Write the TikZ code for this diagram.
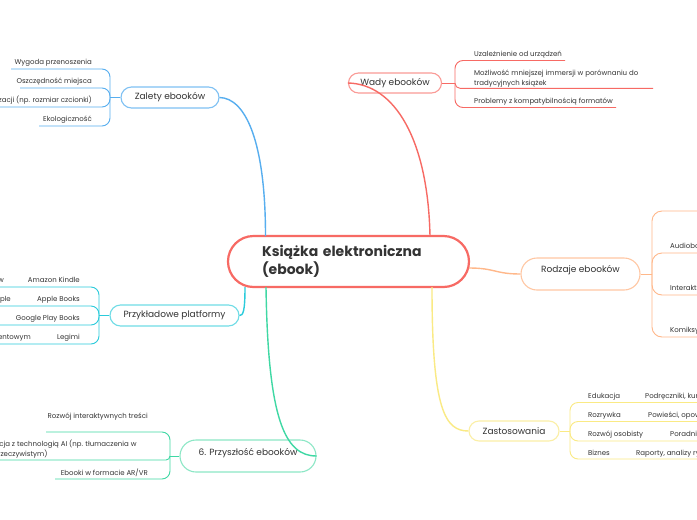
\documentclass[tikz,border=0pt]{standalone}
\usepackage{fontspec}
\setmainfont{Poppins}
\definecolor{txt}{HTML}{333333}
\definecolor{cRed}{HTML}{F76A64}
\definecolor{rPill}{HTML}{FA9A96}
\definecolor{cBlue}{HTML}{57AEEF}
\definecolor{bPill}{HTML}{7FC1F3}
\definecolor{cOr}{HTML}{FFB88A}
\definecolor{oPill}{HTML}{FFC7A3}
\definecolor{cCy}{HTML}{2ACBDB}
\definecolor{cyPill}{HTML}{6FDCE6}
\definecolor{cGr}{HTML}{3FD8A4}
\definecolor{gPill}{HTML}{8DE7C6}
\definecolor{cYe}{HTML}{FAEA84}
\definecolor{yPill}{HTML}{FBEFA6}
\begin{document}
\begin{tikzpicture}[x=1pt,y=-1pt,
  pill/.style={draw, line width=1.1pt, inner sep=0pt, text=txt, font=\fontsize{9}{11}\selectfont},
  child/.style={inner sep=0pt, text=txt, font=\fontsize{7}{10}\selectfont},
  lt/.style={child, anchor=base west},
  rt/.style={child, anchor=base east},
  conn/.style={line width=1.4pt},
  sub/.style={line width=0.9pt}]
\useasboundingbox (0,0) rectangle (697,520);
\clip (0,0) rectangle (697,520);
\fill[white] (0,0) rectangle (697,520);

% central
\node[draw=cRed, line width=2.2pt, rounded corners=25.5pt, minimum height=51pt,
      text width=173pt, inner xsep=34pt, align=left, text=txt,
      font=\bfseries\fontsize{14}{18}\selectfont] (c) at (348.5,261.5) {Książka elektroniczna\\(ebook)};
\coordinate (c-zal) at (265.5,236);
\coordinate (c-wad) at (430,236);
\coordinate (c-rod) at (469,268);
\coordinate (c-prz) at (245,287);
\coordinate (c-fut) at (266,287);
\coordinate (c-zas) at (432,287);

% branch nodes
\node[pill, draw=bPill, rounded corners=10.5pt, minimum width=98pt, minimum height=21pt] (zal) at (170,97.5) {Zalety ebooków};
\node[pill, draw=rPill, rounded corners=10pt, minimum width=93pt, minimum height=20pt] (wad) at (395,83) {Wady ebooków};
\node[pill, draw=oPill, rounded corners=16pt, minimum width=119pt, minimum height=32pt] (rod) at (580.5,274) {\smash{\raisebox{1.5pt}{Rodzaje ebooków}}};
\node[pill, draw=cyPill, rounded corners=10.5pt, minimum width=129pt, minimum height=21pt] (prz) at (174.5,315.5) {Przykładowe platformy};
\node[pill, draw=gPill, rounded corners=16pt, minimum width=136pt, minimum height=32pt] (fut) at (248,456) {\smash{\raisebox{1pt}{6. Przyszłość ebooków}}};
\node[pill, draw=yPill, rounded corners=10pt, minimum width=90pt, minimum height=20pt] (zas) at (514,431) {Zastosowania};

% main connectors
\draw[conn, cBlue] (c-zal) .. controls (265.5,140) and (245,98) .. (zal.east);
\draw[conn, cRed] (c-wad) .. controls (428,140) and (395,84) .. (wad.west);
\draw[conn, cOr] (c-rod) .. controls (495,268) and (495,274) .. (rod.west);
\draw[conn, cCy] (c-prz) .. controls (245,312) and (243,315.5) .. (prz.east);
\draw[conn, cGr] (c-fut) .. controls (268,420) and (285,456) .. (fut.east);
\draw[conn, cYe] (c-zas) .. controls (432,410) and (445,431) .. (zas.west);

% Zalety children
\coordinate (J1) at (110,97.5);
\draw[sub, cBlue] (zal.west) -- (J1);
\node[rt] (z1) at (92,64.5) {Wygoda przenoszenia};
\node[rt] (z2) at (92,83.5) {Oszczędność miejsca};
\node[rt] (z3) at (92,102.5) {Możliwość personalizacji (np. rozmiar czcionki)};
\node[rt] (z4) at (92,121.5) {Ekologiczność};
\coordinate (z1u) at (11,69);
\coordinate (z2u) at (20,88);
\coordinate (z3u) at (-10,107);
\coordinate (z4u) at (39,126);
\draw[sub, cBlue, rounded corners=8pt] (J1) |- (z1u);
\draw[sub, cBlue, rounded corners=8pt] (J1) |- (z2u);
\draw[sub, cBlue, rounded corners=8pt] (J1) |- (z3u);
\draw[sub, cBlue, rounded corners=8pt] (J1) |- (z4u);

% Wady children
\coordinate (J2) at (455,83);
\draw[sub, cRed] (wad.east) -- (J2);
\node[lt] (w1) at (474,56) {Uzależnienie od urządzeń};
\node[lt, align=left] (w2) at (474,85) {Możliwość mniejszej immersji w porównaniu do\\tradycyjnych książek};
\node[lt] (w3) at (474,103.5) {Problemy z kompatybilnością formatów};
\coordinate (w1u) at (565,60.5);
\coordinate (w2u) at (653,88.3);
\coordinate (w3u) at (616,107.5);
\draw[sub, cRed, rounded corners=8pt] (J2) |- (w1u);
\draw[sub, cRed, rounded corners=5pt] (J2) |- (w2u);
\draw[sub, cRed, rounded corners=8pt] (J2) |- (w3u);

% Rodzaje children
\coordinate (J3) at (652,274);
\draw[sub, cOr] (rod.east) -- (J3);
\node[lt] (r1) at (696.5,206) {Ebooki tekstowe};
\node[lt] (r2) at (670,248) {Audiobooki};
\node[lt] (r3) at (670,290) {Interaktywne ebooki};
\node[lt] (r4) at (670,332) {Komiksy i mangi};
\coordinate (r1u) at (705,211);
\coordinate (r2u) at (705,253);
\coordinate (r3u) at (705,295);
\coordinate (r4u) at (705,337);
\draw[sub, cOr, rounded corners=10pt] (J3) |- (r1u);
\draw[sub, cOr, rounded corners=10pt] (J3) |- (r2u);
\draw[sub, cOr, rounded corners=10pt] (J3) |- (r3u);
\draw[sub, cOr, rounded corners=10pt] (J3) |- (r4u);

% Przykladowe children
\coordinate (J4) at (99,315.5);
\draw[sub, cCy] (prz.west) -- (J4);
\node[rt] (p1) at (80,282.5) {Amazon Kindle};
\node[rt] (p2) at (80,301.5) {Apple Books};
\node[rt] (p3) at (80,320.5) {Google Play Books};
\node[rt] (p4) at (80,339.5) {Legimi};
\node[rt] (p1g) at (4,282.5) {Największa biblioteka ebooków};
\node[rt] (p2g) at (11,301.5) {Integracja z urządzeniami Apple};
\node[rt] (p4g) at (31,339.5) {Polska platforma z modelem abonamentowym};
\coordinate (p1u) at (-10,287);
\coordinate (p2u) at (-10,306);
\coordinate (p3u) at (-10,325);
\coordinate (p4u) at (-10,344);
\draw[sub, cCy, rounded corners=8pt] (J4) |- (p1u);
\draw[sub, cCy, rounded corners=8pt] (J4) |- (p2u);
\draw[sub, cCy, rounded corners=8pt] (J4) |- (p3u);
\draw[sub, cCy, rounded corners=8pt] (J4) |- (p4u);

% Przyszlosc children
\coordinate (J5) at (170,456);
\draw[sub, cGr] (fut.west) -- (J5);
\node[rt] (f1) at (148,418) {Rozwój interaktywnych treści};
\node[child, anchor=base west, align=left] (f2) at (-26,456) {Integracja z technologią AI (np. tłumaczenia w\\czasie rzeczywistym)};
\node[rt] (f3) at (148,475) {Ebooki w formacie AR/VR};
\coordinate (f1u) at (46,432);
\coordinate (f2u) at (-10,460);
\coordinate (f3u) at (55,479);
\draw[sub, cGr, rounded corners=8pt] (J5) |- (f1u);
\draw[sub, cGr, rounded corners=4pt] (J5) |- (f2u);
\draw[sub, cGr, rounded corners=8pt] (J5) |- (f3u);

% Zastosowania children
\coordinate (J6) at (570,431);
\draw[sub, cYe] (zas.east) -- (J6);
\node[lt] (s1) at (588,398) {Edukacja};
\node[lt] (s2) at (588,417) {Rozrywka};
\node[lt] (s3) at (588,436.5) {Rozwój osobisty};
\node[lt] (s4) at (588,455) {Biznes};
\node[lt] (s1g) at (645,398) {Podręczniki, kursy online};
\node[lt] (s2g) at (648,417) {Powieści, opowiadania};
\node[lt] (s3g) at (670,436.5) {Poradniki};
\node[lt] (s4g) at (636,455) {Raporty, analizy rynkowe};
\coordinate (s1u) at (705,402.5);
\coordinate (s2u) at (705,421.5);
\coordinate (s3u) at (705,441);
\coordinate (s4u) at (705,459);
\draw[sub, cYe, rounded corners=8pt] (J6) |- (s1u);
\draw[sub, cYe, rounded corners=8pt] (J6) |- (s2u);
\draw[sub, cYe, rounded corners=8pt] (J6) |- (s3u);
\draw[sub, cYe, rounded corners=8pt] (J6) |- (s4u);
\end{tikzpicture}
\end{document}
